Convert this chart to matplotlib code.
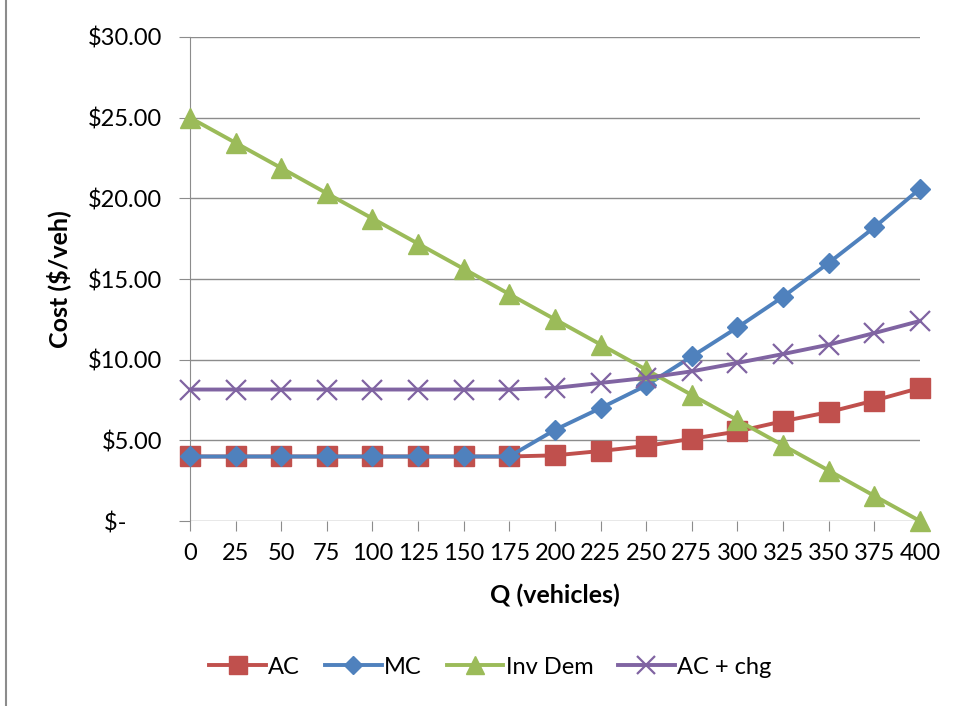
import matplotlib.pyplot as plt
from matplotlib.lines import Line2D
from matplotlib.ticker import FuncFormatter

# Cost curves for road pricing (Q in vehicles, cost in $/veh)
q = [0, 25, 50, 75, 100, 125, 150, 175, 200, 225, 250, 275, 300, 325, 350, 375, 400]
ac = [4.00, 4.00, 4.00, 4.00, 4.00, 4.00, 4.00, 4.00, 4.07, 4.34, 4.65, 5.10, 5.55, 6.19, 6.75, 7.47, 8.25]
mc = [4.00, 4.00, 4.00, 4.00, 4.00, 4.00, 4.00, 4.00, 5.65, 7.00, 8.40, 10.20, 12.00, 13.90, 16.00, 18.20, 20.60]
inv_dem = [25.00, 23.44, 21.88, 20.31, 18.75, 17.19, 15.63, 14.06, 12.50, 10.94, 9.38, 7.81, 6.25, 4.69, 3.13, 1.56, 0.00]
ac_chg = [8.15, 8.15, 8.15, 8.15, 8.15, 8.15, 8.15, 8.15, 8.25, 8.56, 8.87, 9.28, 9.80, 10.35, 10.93, 11.65, 12.40]

plt.rcParams["font.family"] = ["Lato", "DejaVu Sans"]

fig = plt.figure(figsize=(9.56, 7.06), dpi=100)
ax = fig.add_axes([0.1987, 0.262, 0.7636, 0.6856])

series = [
    ("AC", ac, "#C0504D", "s", 14, 1.0),
    ("MC", mc, "#4F81BD", "D", 10.5, 1.0),
    ("Inv Dem", inv_dem, "#9BBB59", "^", 15, 1.0),
    ("AC + chg", ac_chg, "#8064A2", "x", 14, 1.6),
]
for name, vals, color, mk, ms, mew in series:
    ax.plot(q, vals, color=color, lw=2.8, marker=mk, markersize=ms,
            markeredgewidth=mew, markeredgecolor=color, markerfacecolor=color,
            label=name, clip_on=False, zorder=3)

ax.set_xlim(0, 400)
ax.set_ylim(0, 30)
ax.set_xticks(q)
ax.set_yticks(range(0, 31, 5))
# accounting style: zero shows as a dash
ax.yaxis.set_major_formatter(FuncFormatter(lambda v, p: "$-      " if v == 0 else f"${v:.2f}"))
ax.grid(axis="y", color="#8c8c8c", lw=1)
ax.set_axisbelow(True)

for side in ["top", "right", "bottom"]:
    ax.spines[side].set_visible(False)
ax.spines["left"].set_color("#8c8c8c")
ax.tick_params(axis="y", direction="out", length=8, color="#8c8c8c", labelsize=17, pad=12)
ax.tick_params(axis="x", direction="out", length=7, color="#8c8c8c", labelsize=17, pad=9)

ax.set_xlabel("Q (vehicles)", fontsize=18, fontweight="bold", labelpad=14)
ax.set_ylabel("Cost ($/veh)", fontsize=18, fontweight="bold", labelpad=12)

handles = [Line2D([0], [0], color=c, lw=2.8, marker=m, markersize=s * 0.9,
                  markeredgewidth=w, markeredgecolor=c, markerfacecolor=c)
           for _, _, c, m, s, w in series]
fig.legend(handles, [s[0] for s in series], loc="center", bbox_to_anchor=(0.513, 0.055),
           ncol=4, frameon=False, fontsize=17, handlelength=2.4, columnspacing=1.05,
           handletextpad=0.1)

# chart border on the left edge
fig.add_artist(Line2D([0.0063, 0.0063], [0, 1], color="#8c8c8c", lw=1.5))

fig.savefig("out.png", dpi=100)
